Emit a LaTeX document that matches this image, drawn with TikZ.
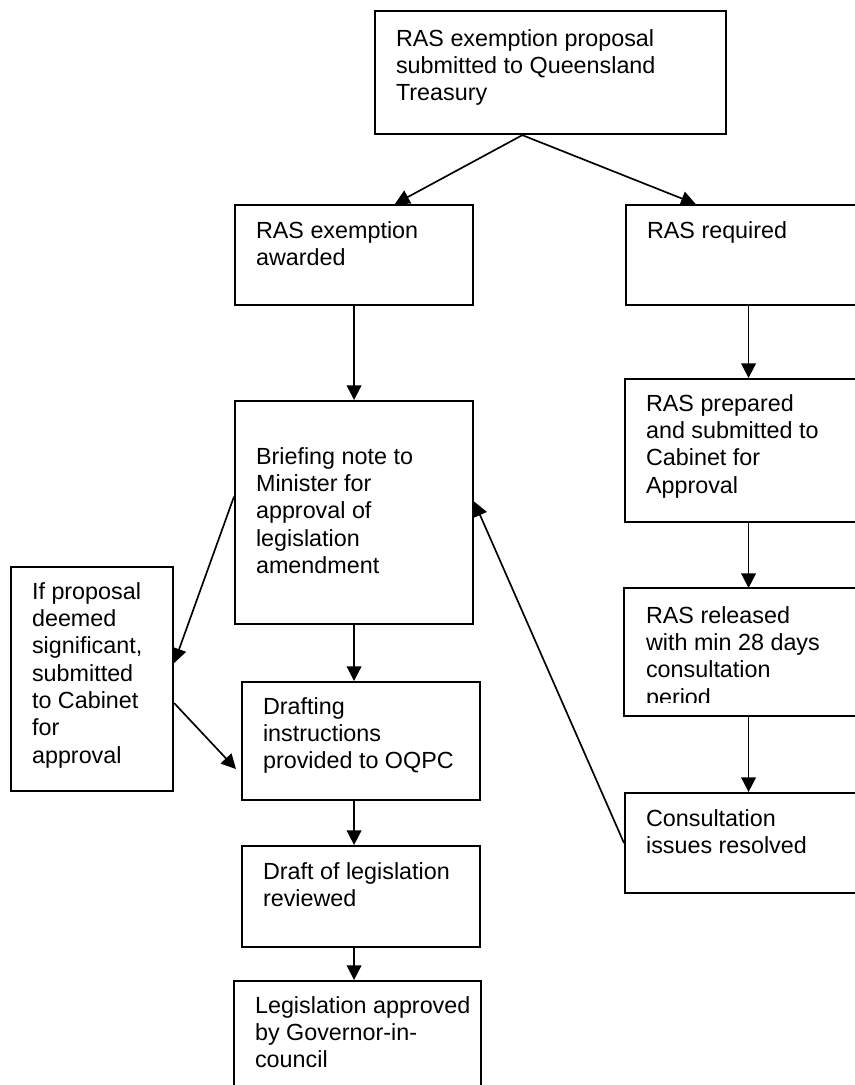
\documentclass[tikz,border=0pt]{standalone}
\usepackage{fontspec}
\setmainfont{Liberation Sans}
\usetikzlibrary{arrows.meta,calc}

\newlength{\pxu}
\setlength{\pxu}{0.75pt}
% width, height, top gap, text
\newcommand{\cell}[4]{\parbox[c][#2\pxu][t]{#1\pxu}{\raggedright\vspace*{#3\pxu}\strut#4}}

\begin{document}
\begin{tikzpicture}[x=0.75pt, y=-0.75pt,
    boxline/.style={line width=1.6pt},
    box/.style={draw, boxline, anchor=north west, inner xsep=15.75pt, inner ysep=0pt,
        font=\fontsize{17.5}{20.5}\selectfont},
    arr/.style={line width=1.25pt, -{Triangle[length=11pt,width=11pt]}}]
    \useasboundingbox (0,0) rectangle (855,1085);
    \fill[white] (0,0) rectangle (855,1085);
    \clip (0,0) rectangle (855,1085);

    % Proposal at the top
    \node[box] (top) at (374,10) {\cell{309}{123}{15.9}{RAS exemption proposal\\submitted to Queensland\\Treasury}};

    % Exemption branch
    \node[box] (award) at (234,204) {\cell{196}{100}{13.9}{RAS exemption\\awarded}};
    \node[box] (brief) at (234,400) {\cell{196}{223}{43.9}{Briefing note to\\Minister for\\approval of\\legislation\\amendment}};
    \node[box] (ifbox) at (10,566) {\cell{120}{224}{12.9}{If proposal\\deemed\\significant,\\submitted\\to Cabinet\\for\\approval}};
    \node[box] (draft) at (241,681) {\cell{196}{118}{12.9}{Drafting\\instructions\\provided to OQPC}};
    \node[box] (review) at (241,845) {\cell{196}{101}{13.9}{Draft of legislation\\reviewed}};
    \node[box] (final) at (233,980) {\cell{205}{120}{12.9}{\mbox{Legislation approved}\\by Governor-in-\\council}};

    % RAS branch
    \node[box] (req) at (625,204) {\cell{203}{100}{13.9}{RAS required}};
    \node[box] (prep) at (624,378) {\cell{204}{143}{12.9}{RAS prepared\\and submitted to\\Cabinet for\\Approval}};
    \begin{scope}
        \clip (624,588) rectangle (870,702);
        \node[box, draw=none] (rel) at (624,588) {\cell{204}{126}{14.9}{RAS released\\with min 28 days\\consultation\\period}};
    \end{scope}
    \draw[boxline] (rel.north west) rectangle (rel.south east);
    \node[box] (cons) at (624,792) {\cell{204}{100}{13.9}{Consultation\\issues resolved}};

    % Connectors
    \coordinate (apex) at ($(top.south west)!0.42!(top.south east)$);
    \draw[arr] (apex) -- ($(award.north west)!0.67!(award.north east)$);
    \draw[arr] (apex) -- ($(req.north west)!0.286!(req.north east)$);
    \draw[arr] (award.south) -- (brief.north);
    \draw[arr] ($(brief.west)+(0,-16)$) -- ($(ifbox.east)+(0,-16)$);
    \draw[arr] ($(ifbox.east)+(0,24)$) -- ($(draft.west)+(-5,28)$);
    \draw[arr] (brief.south) -- (brief.south |- draft.north);
    \draw[arr] (brief.south |- draft.south) -- (brief.south |- review.north);
    \draw[arr] (brief.south |- review.south) -- (brief.south |- final.north);
    \draw[arr] (req.south) -- (req.south |- prep.north);
    \draw[arr] (req.south |- prep.south) -- (req.south |- rel.north);
    \draw[arr] (req.south |- rel.south) -- (req.south |- cons.north);
    \draw[arr] (cons.west) -- ($(brief.east)+(0,-11)$);
\end{tikzpicture}
\end{document}
